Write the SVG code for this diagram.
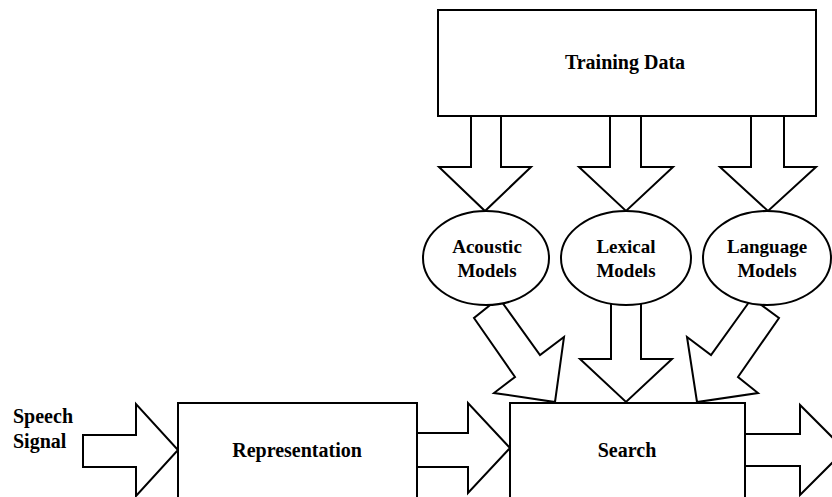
<svg xmlns="http://www.w3.org/2000/svg" width="832" height="497" viewBox="0 0 832 497">
<style>
.box{fill:#fff;stroke:#000;stroke-width:2}
.arr{fill:#fff;stroke:#000;stroke-width:2;stroke-linejoin:miter}
.t{font-family:"Liberation Serif","Times New Roman",serif;font-weight:bold;fill:#000;text-anchor:middle}
.big{font-size:20px}
.sm{font-size:19px}
.l{text-anchor:start}
</style>
<rect width="832" height="497" fill="#fff"/>
<g id="connectors">
  <polygon class="arr" points="471,116 501,116 501,167 531,167 485,211 439,167 471,167"/>
  <polygon class="arr" points="610,116 641,116 641,167 673,167 626,211 579,167 610,167"/>
  <polygon class="arr" points="751,116 784,116 784,167 816,167 768,211 720,167 751,167"/>
  <polygon class="arr" points="499,298 540,355 564,337 555,402 494,393 515,377 474,318"/>
  <polygon class="arr" points="611,300 641,300 641,359 672,359 626,402 580,359 611,359"/>
  <polygon class="arr" points="752,298 711,355 687,337 697,402 758,393 738,377 779,318"/>
  <polygon class="arr" points="83,435 136,435 136,404 178,450 136,496 136,467 83,467"/>
  <polygon class="arr" points="417,433 468,433 468,403 510,448 468,493 468,467 417,467"/>
  <polygon class="arr" points="745,434 800,434 800,405 845,450 800,495 800,466 745,466"/>
</g>
<g id="training-data">
  <rect class="box" x="438" y="10" width="378" height="106"/>
  <text class="t big" x="625" y="69">Training Data</text>
</g>
<g id="acoustic-models">
  <ellipse class="box" cx="486" cy="258" rx="63" ry="47"/>
  <text class="t sm" x="487" y="253">Acoustic</text>
  <text class="t sm" x="487" y="277">Models</text>
</g>
<g id="lexical-models">
  <ellipse class="box" cx="626" cy="258" rx="65" ry="47"/>
  <text class="t sm" x="626" y="253">Lexical</text>
  <text class="t sm" x="626" y="277">Models</text>
</g>
<g id="language-models">
  <ellipse class="box" cx="767" cy="258" rx="64" ry="47"/>
  <text class="t sm" x="767" y="253">Language</text>
  <text class="t sm" x="767" y="277">Models</text>
</g>
<g id="speech-signal">
  <text class="t big l" x="13" y="423">Speech</text>
  <text class="t big l" x="13" y="448">Signal</text>
</g>
<g id="representation">
  <rect class="box" x="178" y="403" width="239" height="110"/>
  <text class="t big" x="297" y="457">Representation</text>
</g>
<g id="search">
  <rect class="box" x="510" y="403" width="235" height="110"/>
  <text class="t big" x="627" y="457">Search</text>
</g>
</svg>
